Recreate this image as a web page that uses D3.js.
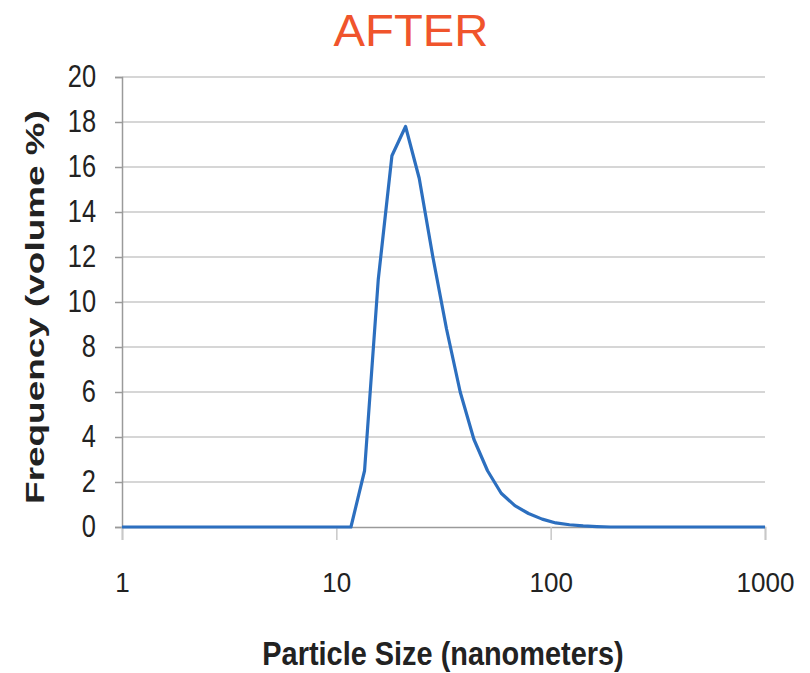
<!DOCTYPE html>
<html>
<head>
<meta charset="utf-8">
<script src="https://cdn.jsdelivr.net/npm/d3@7"></script>
<style>
  body { margin: 0; background: #fff; }
  svg { display: block; }
</style>
</head>
<body>
<div id="chart"></div>
<script>
// particle size bins (nm) and volume frequency (%)
var sizes = [1, 1.117, 1.294, 1.499, 1.736, 2.01, 2.328, 2.696, 3.122, 3.615, 4.187, 4.849,
  5.615, 6.503, 7.531, 8.721, 10.1, 11.7, 13.54, 15.69, 18.17, 21.04, 24.36, 28.21,
  32.67, 37.84, 43.82, 50.75, 58.77, 68.06, 78.82, 91.28, 105.7, 122.4, 141.8, 164.2,
  190.1, 220.2, 255, 295.3, 342, 396.1, 458.7, 531.2, 615.1, 712.4, 825, 955.4, 1000];
var volume = [0, 0, 0, 0, 0, 0, 0, 0, 0, 0, 0, 0,
  0, 0, 0, 0, 0, 0, 2.5, 11.0, 16.5, 17.8, 15.5, 12.0,
  8.8, 6.0, 3.9, 2.5, 1.5, 0.95, 0.6, 0.35, 0.18, 0.1, 0.05, 0.02,
  0, 0, 0, 0, 0, 0, 0, 0, 0, 0, 0, 0, 0];
var xTicks = [1, 10, 100, 1000];
var yTicks = [0, 2, 4, 6, 8, 10, 12, 14, 16, 18, 20];

var width = 810, height = 673;
var plotLeft = 122, plotRight = 765, plotTop = 77, plotBottom = 527;
var font = 'Liberation Sans, Arial, sans-serif';

var svg = d3.select('#chart').append('svg')
  .attr('width', width).attr('height', height);

var x = d3.scaleLog().domain([1, 1000]).range([plotLeft, plotRight]);
var y = d3.scaleLinear().domain([0, 20]).range([plotBottom, plotTop]);

// horizontal gridlines
svg.append('g').selectAll('line').data(yTicks.filter(function (d) { return d > 0; }))
  .enter().append('line')
  .attr('x1', plotLeft).attr('x2', plotRight)
  .attr('y1', function (d) { return y(d); }).attr('y2', function (d) { return y(d); })
  .attr('stroke', '#c8c8c8').attr('stroke-width', 1.5);

// y axis
var yScaleX = 0.82;
var yAxis = svg.append('g')
  .attr('transform', 'translate(' + plotLeft + ',0)')
  .call(d3.axisLeft(y).tickValues(yTicks).tickSize(7));
yAxis.select('.domain').attr('stroke', '#9a9a9a').attr('stroke-width', 1.5);
yAxis.selectAll('.tick line').attr('stroke', '#9a9a9a').attr('stroke-width', 1.5);
yAxis.selectAll('.tick text')
  .attr('font-family', font)
  .attr('font-size', 31).attr('fill', '#222')
  .attr('transform', 'scale(' + yScaleX + ',1)')
  .attr('x', -26 / yScaleX);

// x axis
var xAxis = svg.append('g')
  .attr('transform', 'translate(0,' + plotBottom + ')')
  .call(d3.axisBottom(x).tickValues(xTicks).tickFormat(d3.format('d')).tickSize(13));
xAxis.select('.domain').attr('stroke', '#9a9a9a').attr('stroke-width', 1.5);
xAxis.selectAll('.tick line').attr('stroke', '#c8c8c8').attr('stroke-width', 1.5);
xAxis.selectAll('.tick text')
  .attr('font-family', font)
  .attr('font-size', 28).attr('fill', '#222')
  .attr('y', 45)
  .attr('transform', 'scale(0.93,1)');

// data line
var line = d3.line()
  .x(function (d, i) { return x(sizes[i]); })
  .y(function (d) { return y(d); });

svg.append('path')
  .datum(volume)
  .attr('d', line)
  .attr('fill', 'none')
  .attr('stroke', '#2c6fbf')
  .attr('stroke-width', 3.2)
  .attr('stroke-linejoin', 'round');

// title
svg.append('text')
  .attr('transform', 'translate(411,46) scale(1.05,1)')
  .attr('text-anchor', 'middle')
  .attr('font-family', font)
  .attr('font-size', 45).attr('fill', '#f0542c')
  .text('AFTER');

// axis titles
svg.append('text')
  .attr('transform', 'translate(44,307) rotate(-90) scale(1.42,1)')
  .attr('text-anchor', 'middle')
  .attr('font-family', font)
  .attr('font-weight', 'bold')
  .attr('font-size', 26).attr('fill', '#222')
  .text('Frequency (volume %)');

svg.append('text')
  .attr('transform', 'translate(443,665) scale(0.85,1)')
  .attr('text-anchor', 'middle')
  .attr('font-family', font)
  .attr('font-weight', 'bold')
  .attr('font-size', 34).attr('fill', '#222')
  .text('Particle Size (nanometers)');
</script>
</body>
</html>
